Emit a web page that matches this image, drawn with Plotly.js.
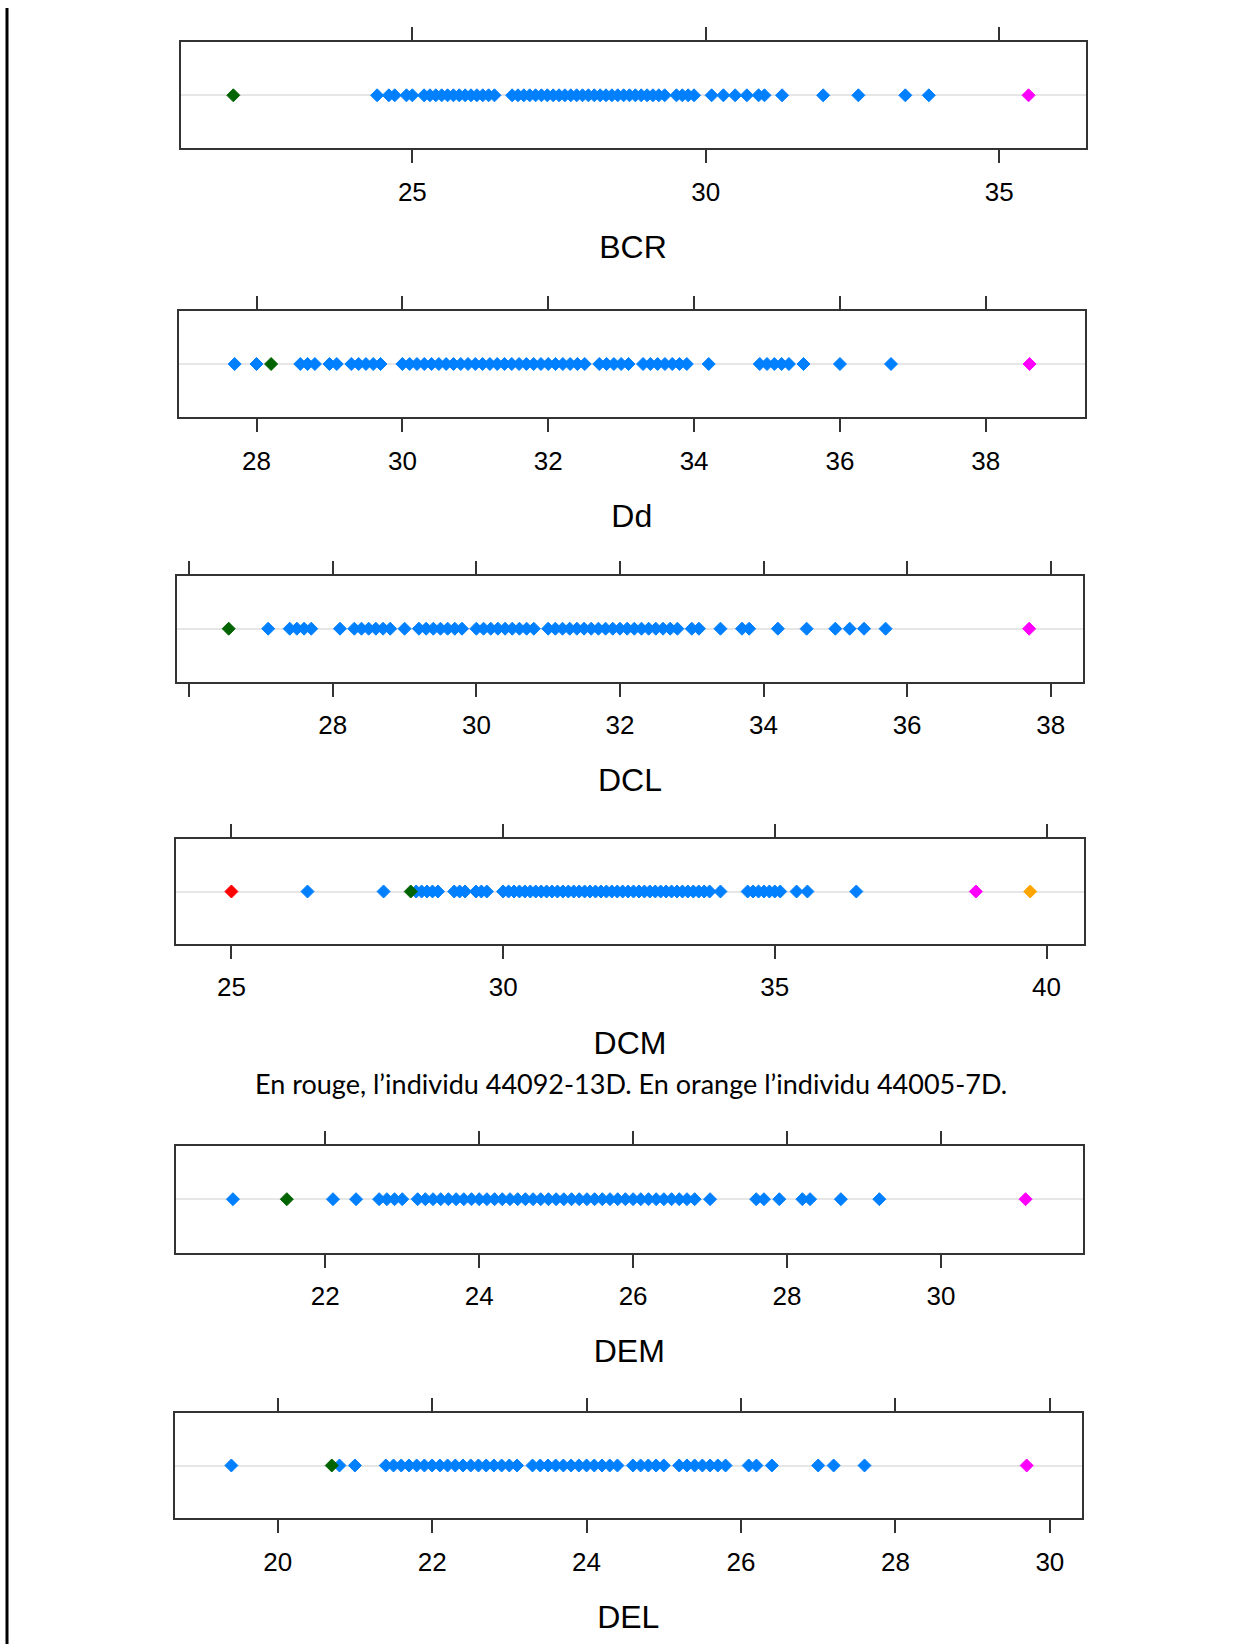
<!DOCTYPE html>
<html><head><meta charset="utf-8">
<script src="https://cdn.plot.ly/plotly-3.0.1.min.js"></script>
<style>html,body{margin:0;padding:0;background:#fff}#chart{width:1253px;height:1644px}</style>
</head><body><div id="chart"></div>
<script>
// ---------- DATA ----------
const variables = ['BCR', 'Dd', 'DCL', 'DCM', 'DEM', 'DEL'];

const BCR_blue = [24.4, 24.6, 24.7, 24.9, 25.0, 25.2, 25.3, 25.4, 25.5, 25.6, 25.7, 25.8, 25.9, 26.0, 26.1, 26.2, 26.3, 26.4,
  26.7, 26.8, 26.9, 27.0, 27.1, 27.2, 27.3, 27.4, 27.5, 27.6, 27.7, 27.8, 27.9, 28.0, 28.1, 28.2, 28.3, 28.4, 28.5, 28.6,
  28.7, 28.8, 28.9, 29.0, 29.1, 29.2, 29.3, 29.5, 29.6, 29.7, 29.8, 30.1, 30.3, 30.5, 30.7, 30.9, 31.0, 31.3, 32.0, 32.6, 33.4, 33.8];
const BCR_green = [21.95];
const BCR_magenta = [35.5];

const Dd_blue = [27.7, 28.0, 28.6, 28.7, 28.8, 29.0, 29.1, 29.3, 29.4, 29.5, 29.6, 29.7,
  30.0, 30.1, 30.2, 30.3, 30.4, 30.5, 30.6, 30.7, 30.8, 30.9, 31.0, 31.1, 31.2, 31.3, 31.4, 31.5, 31.6, 31.7, 31.8, 31.9,
  32.0, 32.1, 32.2, 32.3, 32.4, 32.5, 32.7, 32.8, 32.9, 33.0, 33.1, 33.3, 33.4, 33.5, 33.6, 33.7, 33.8, 33.9, 34.2,
  34.9, 35.0, 35.1, 35.2, 35.3, 35.5, 36.0, 36.7];
const Dd_green = [28.2];
const Dd_magenta = [38.6];

const DCL_blue = [27.1, 27.4, 27.5, 27.6, 27.7, 28.1, 28.3, 28.4, 28.5, 28.6, 28.7, 28.8, 29.0,
  29.2, 29.3, 29.4, 29.5, 29.6, 29.7, 29.8, 30.0, 30.1, 30.2, 30.3, 30.4, 30.5, 30.6, 30.7, 30.8,
  31.0, 31.1, 31.2, 31.3, 31.4, 31.5, 31.6, 31.7, 31.8, 31.9, 32.0, 32.1, 32.2, 32.3, 32.4, 32.5, 32.6, 32.7, 32.8,
  33.0, 33.1, 33.4, 33.7, 33.8, 34.2, 34.6, 35.0, 35.2, 35.4, 35.7];
const DCL_green = [26.55];
const DCL_magenta = [37.7];

const DCM_blue = [26.4, 27.8, 28.4, 28.5, 28.6, 28.7, 28.8, 29.1, 29.2, 29.3, 29.5, 29.6, 29.7,
  30.0, 30.1, 30.2, 30.3, 30.4, 30.5, 30.6, 30.7, 30.8, 30.9, 31.0, 31.1, 31.2, 31.3, 31.4, 31.5, 31.6, 31.7, 31.8, 31.9,
  32.0, 32.1, 32.2, 32.3, 32.4, 32.5, 32.6, 32.7, 32.8, 32.9, 33.0, 33.1, 33.2, 33.3, 33.4, 33.5, 33.6, 33.7, 33.8, 34.0,
  34.5, 34.6, 34.7, 34.8, 34.9, 35.0, 35.1, 35.4, 35.6, 36.5];
const DCM_green = [28.3];
const DCM_magenta = [38.7];
const DCM_red = [25.0];
const DCM_orange = [39.7];

const DEM_blue = [20.8, 22.1, 22.4, 22.7, 22.8, 22.9, 23.0,
  23.2, 23.3, 23.4, 23.5, 23.6, 23.7, 23.8, 23.9, 24.0, 24.1, 24.2, 24.3, 24.4, 24.5, 24.6, 24.7, 24.8, 24.9,
  25.0, 25.1, 25.2, 25.3, 25.4, 25.5, 25.6, 25.7, 25.8, 25.9, 26.0, 26.1, 26.2, 26.3, 26.4, 26.5, 26.6, 26.7, 26.8,
  27.0, 27.6, 27.7, 27.9, 28.2, 28.3, 28.7, 29.2];
const DEM_green = [21.5];
const DEM_magenta = [31.1];

const DEL_blue = [19.4, 20.8, 21.0,
  21.4, 21.5, 21.6, 21.7, 21.8, 21.9, 22.0, 22.1, 22.2, 22.3, 22.4, 22.5, 22.6, 22.7, 22.8, 22.9, 23.0, 23.1,
  23.3, 23.4, 23.5, 23.6, 23.7, 23.8, 23.9, 24.0, 24.1, 24.2, 24.3, 24.4,
  24.6, 24.7, 24.8, 24.9, 25.0, 25.2, 25.3, 25.4, 25.5, 25.6, 25.7, 25.8,
  26.1, 26.2, 26.4, 27.0, 27.2, 27.6];
const DEL_green = [20.7];
const DEL_magenta = [29.7];

const BCR_ticks = [25, 30, 35];
const BCR_labels = ['25', '30', '35'];
const Dd_ticks = [28, 30, 32, 34, 36, 38];
const Dd_labels = ['28', '30', '32', '34', '36', '38'];
const DCL_ticks = [26, 28, 30, 32, 34, 36, 38];
const DCL_labels = ['', '28', '30', '32', '34', '36', '38'];
const DCM_ticks = [25, 30, 35, 40];
const DCM_labels = ['25', '30', '35', '40'];
const DEM_ticks = [22, 24, 26, 28, 30];
const DEM_labels = ['22', '24', '26', '28', '30'];
const DEL_ticks = [20, 22, 24, 26, 28, 30];
const DEL_labels = ['20', '22', '24', '26', '28', '30'];

const caption = 'En rouge, l\u2019individu 44092-13D. En orange l\u2019individu 44005-7D.';

// ---------- COLOURS ----------
const BLUE = '#0080FF', GREEN = '#006400', MAGENTA = '#FF00FF', RED = '#FF0000', ORANGE = '#FFA500';

// ---------- BUILD ----------
const series = [
  [[BCR_blue, BLUE], [BCR_green, GREEN], [BCR_magenta, MAGENTA]],
  [[Dd_blue, BLUE], [Dd_green, GREEN], [Dd_magenta, MAGENTA]],
  [[DCL_blue, BLUE], [DCL_green, GREEN], [DCL_magenta, MAGENTA]],
  [[DCM_blue, BLUE], [DCM_green, GREEN], [DCM_magenta, MAGENTA], [DCM_red, RED], [DCM_orange, ORANGE]],
  [[DEM_blue, BLUE], [DEM_green, GREEN], [DEM_magenta, MAGENTA]],
  [[DEL_blue, BLUE], [DEL_green, GREEN], [DEL_magenta, MAGENTA]]
];
const ticks = [
  [BCR_ticks, BCR_labels], [Dd_ticks, Dd_labels], [DCL_ticks, DCL_labels],
  [DCM_ticks, DCM_labels], [DEM_ticks, DEM_labels], [DEL_ticks, DEL_labels]
];

// panel geometry in page pixels (layout only)
const W = 1253, H = 1644;
const geom = [
  {l: 180.5, r: 1085.5, t: 42.3, b: 148.3, range: [21.05, 36.47]},
  {l: 178.5, r: 1085.0, t: 310.7, b: 417.3, range: [26.93, 39.36]},
  {l: 177.0, r: 1083.0, t: 575.7, b: 681.7, range: [25.83, 38.45]},
  {l: 176.0, r: 1084.0, t: 839.0, b: 944.0, range: [23.98, 40.69]},
  {l: 176.0, r: 1082.5, t: 1145.7, b: 1252.7, range: [20.06, 31.84]},
  {l: 175.0, r: 1081.5, t: 1412.7, b: 1518.3, range: [18.67, 30.41]}
];

const traces = [];
const layout = {
  width: W, height: H,
  margin: {l: 0, r: 0, t: 0, b: 0},
  paper_bgcolor: '#fff', plot_bgcolor: '#fff',
  showlegend: false,
  font: {family: 'Liberation Sans, Arial, sans-serif', color: '#000'},
  shapes: [{
    type: 'line', xref: 'paper', yref: 'paper',
    x0: 7 / W, x1: 7 / W, y0: 0, y1: 1 - 8 / H,
    line: {color: '#000', width: 3}
  }],
  annotations: [{
    xref: 'paper', yref: 'paper', x: 631 / W, y: 1 - 1083 / H,
    xanchor: 'center', yanchor: 'middle', showarrow: false,
    text: caption,
    font: {family: 'Lato, Carlito, Calibri, sans-serif', size: 27, color: '#000'}
  }]
};

variables.forEach((name, i) => {
  const suf = i === 0 ? '' : String(i + 1);
  const g = geom[i];
  series[i].forEach(([vals, col]) => {
    traces.push({
      type: 'scatter', mode: 'markers',
      x: vals, y: vals.map(() => name),
      xaxis: 'x' + suf, yaxis: 'y' + suf,
      marker: {symbol: 'diamond', size: 10, color: col, line: {width: 1, color: col}},
      hoverinfo: 'x'
    });
  });
  layout['xaxis' + suf] = {
    domain: [g.l / W, g.r / W],
    anchor: 'y' + suf,
    range: g.range,
    tickmode: 'array', tickvals: ticks[i][0], ticktext: ticks[i][1],
    ticks: 'outside', ticklen: 13, tickwidth: 2, tickcolor: '#333',
    showline: true, linecolor: '#333', linewidth: 2, mirror: 'allticks',
    showgrid: false, zeroline: false,
    tickfont: {size: 26, color: '#000'},
    ticklabelstandoff: 6,
    title: {text: name, font: {size: 32, color: '#000'}, standoff: 30},
    automargin: false, fixedrange: true
  };
  layout['yaxis' + suf] = {
    domain: [1 - g.b / H, 1 - g.t / H],
    anchor: 'x' + suf,
    type: 'category',
    range: [-1, 1],
    showticklabels: false, ticks: '',
    showline: true, linecolor: '#333', linewidth: 2, mirror: true,
    showgrid: true, gridcolor: '#e6e6e6', gridwidth: 2,
    zeroline: false, automargin: false, fixedrange: true
  };
});

Plotly.newPlot('chart', traces, layout, {displayModeBar: false, staticPlot: true});
</script>
</body></html>
